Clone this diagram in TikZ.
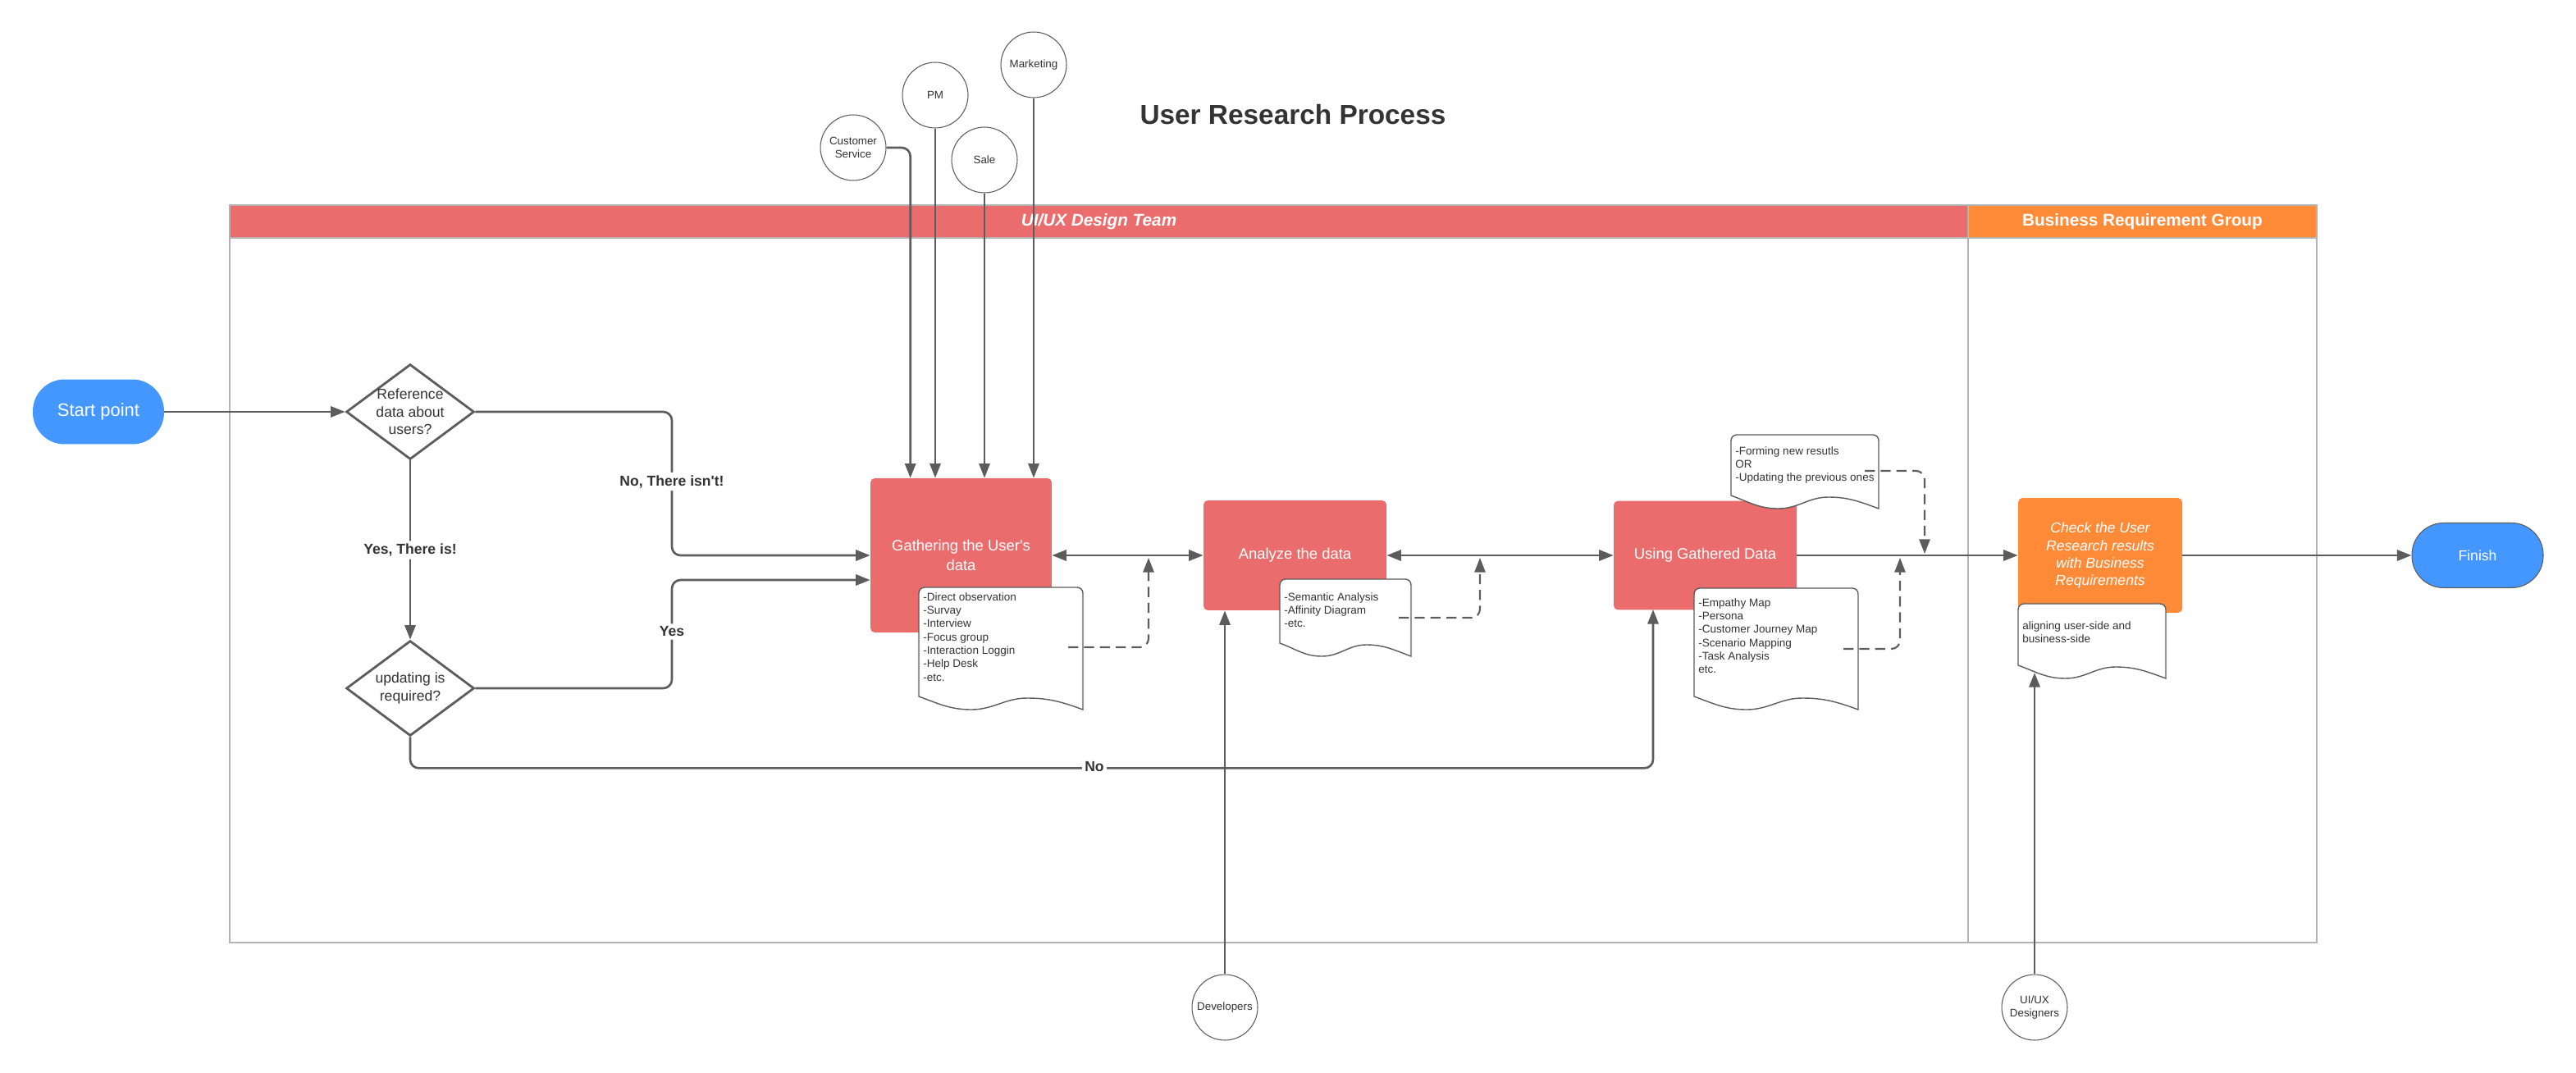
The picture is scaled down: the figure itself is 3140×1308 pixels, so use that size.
\documentclass[tikz,border=0pt]{standalone}
\usepackage{fontspec}
\setmainfont{Liberation Sans}
\usetikzlibrary{arrows.meta,shapes.geometric,calc,positioning}

\definecolor{laneRed}{HTML}{EB6C6C}
\definecolor{laneOrange}{HTML}{FF8A38}
\definecolor{termBlue}{HTML}{4497FF}
\definecolor{lineGray}{HTML}{5C5C5C}
\definecolor{poolGray}{HTML}{B3B3B3}
\definecolor{inkGray}{HTML}{333333}

% document sheet with a wavy foot: name, left, top, width, height, text top, text
\newcommand{\notesheet}[7]{%
  \draw[notepaper] (#2,#3+#5-16) [rounded corners=4pt] -- (#2,#3) -- (#2+#4,#3)
    -- (#2+#4,#3+20) [sharp corners] -- (#2+#4,#3+#5)
    to[out=160,in=0] (#2+0.66*#4,#3+#5-14)
    to[out=180,in=0] (#2+0.32*#4,#3+#5)
    to[out=180,in=-20] (#2,#3+#5-16) -- cycle;
  \node[notetext] (#1) at (#2+5,#6) {#7};
}

\begin{document}
\begin{tikzpicture}[
    x=0.02cm, y=-0.02cm,
    >={Triangle[length=10pt,width=7.5pt]},
    flow/.style={draw=lineGray, line width=1.5pt, rounded corners=6pt, ->},
    flowboth/.style={flow, <->},
    dashflow/.style={flow, line width=1.2pt, dash pattern=on 7pt off 4pt},
    pool/.style={draw=poolGray, line width=1.1pt},
    lanehead/.style={text=white, font=\fontsize{11.8}{14}\selectfont\bfseries},
    task/.style={fill=laneRed, rounded corners=3pt, text=white, align=center,
      inner sep=0pt, font=\fontsize{10.5}{13.3}\selectfont},
    checkbox/.style={task, fill=laneOrange, font=\fontsize{10}{12}\selectfont\itshape},
    terminal/.style={fill=termBlue, rounded corners=22pt, text=white, inner sep=0pt,
      minimum width=3.2cm, minimum height=1.58cm},
    decision/.style={diamond, draw=lineGray, line width=1.6pt, fill=white, inner sep=0pt,
      minimum width=3.12cm, minimum height=2.32cm},
    declbl/.style={align=center, text=inkGray, font=\fontsize{10}{12.3}\selectfont},
    actor/.style={circle, draw=lineGray, line width=0.6pt, fill=white, minimum size=1.6cm,
      inner sep=0pt, align=center, text=inkGray, font=\fontsize{7.6}{9.1}\selectfont},
    edgelbl/.style={fill=white, inner sep=2pt, text=inkGray,
      font=\fontsize{10}{12}\selectfont\bfseries},
    notepaper/.style={draw=lineGray, line width=0.8pt, fill=white},
    notetext/.style={anchor=north west, inner sep=0pt, align=left, text=inkGray,
      font=\fontsize{7.7}{9.3}\selectfont},
  ]
\useasboundingbox (0,0) rectangle (3140,1308);

% title and swimlane pool
\node[text=inkGray, font=\fontsize{19}{23}\selectfont\bfseries] (title) at (1576,140)
  {User Research Process};
\fill[laneRed] (280,250) rectangle (2399,290);
\fill[laneOrange] (2399,250) rectangle (2824,290);
\draw[pool] (280,250) rectangle (2824,1149);
\draw[pool] (280,290) -- (2824,290);
\draw[pool] (2399,250) -- (2399,1149);
\node[lanehead, font=\fontsize{11.8}{14}\selectfont\bfseries\itshape] (uiuxHead)
  at (1339.5,270) {UI/UX Design Team};
\node[lanehead] (bizHead) at (2611.5,270) {Business Requirement Group};

% terminals, decisions and tasks
\node[terminal, font=\fontsize{12.5}{15}\selectfont] (start) at (120,502) {Start point};
\node[terminal, draw=lineGray, line width=0.6pt, font=\fontsize{10}{12}\selectfont]
  (finish) at (3020,677) {Finish};
\node[decision, label={[declbl, name=refTxt]center:{Reference\\data about\\users?}}]
  (ref) at (500,502) {};
\node[decision, label={[declbl, name=updTxt]center:{updating is\\required?}}]
  (upd) at (500,839) {};
\node[task, minimum width=4.42cm, minimum height=3.76cm] (gat) at (1171.5,677)
  {Gathering the User\textquotesingle s\\data};
\node[task, minimum width=4.46cm, minimum height=2.68cm] (ana) at (1578.5,677)
  {Analyze the data};
\node[task, minimum width=4.46cm, minimum height=2.66cm] (use) at (2078.5,677)
  {Using Gathered Data};
\node[checkbox, minimum width=4cm, minimum height=2.8cm] (check) at (2560,677)
  {Check the User\\Research results\\with Business\\Requirements};

% stakeholders
\node[actor] (cs) at (1040,180) {Customer\\Service};
\node[actor] (pm) at (1140,116) {PM};
\node[actor] (sale) at (1200,195) {Sale};
\node[actor] (mkt) at (1260,79) {Marketing};
\node[actor] (dev) at (1493,1228) {Developers};
\node[actor] (uxd) at (2480,1228) {UI/UX\\Designers};

% document notes
\notesheet{gatNote}{1120}{716}{200}{149}{722}{-Direct observation\\-Survay\\-Interview\\
  -Focus group\\-Interaction Loggin\\-Help Desk\\-etc.}
\notesheet{anaNote}{1560}{706}{160}{94}{722}{-Semantic Analysis\\-Affinity Diagram\\-etc.}
\notesheet{useNote}{2065}{717}{200}{148}{729}{-Empathy Map\\-Persona\\
  -Customer Journey Map\\-Scenario Mapping\\-Task Analysis\\etc.}
\notesheet{formNote}{2110}{530}{180}{90}{544}{-Forming new resutls\\OR\\
  -Updating the previous ones}
\notesheet{alignNote}{2460}{736}{180}{91}{757}{aligning user-side and\\business-side}

\coordinate (gatTap) at (1302,789);
\coordinate (gatJoin) at (1400,680);
\coordinate (anaTap) at (1705,753);
\coordinate (anaJoin) at (1804,680);
\coordinate (useTap) at (2247,791);
\coordinate (useJoin) at (2316,680);
\coordinate (formTap) at (2273,574);
\coordinate (formJoin) at (2346,675);
\coordinate (useFoot) at (2015,743);
\coordinate (alignFoot) at (2480,820);

% main flow
\draw[flow] (start) -- (ref);
\draw[flow] (ref) -- node[edgelbl] (yesThere) {Yes, There is!} (upd);
\draw[flow] (ref.east) -| (819,587) node[edgelbl] (noThere) {No, There isn\textquotesingle t!}
  |- (gat.west);
\draw[flow] (upd.east) -| (819,770) node[edgelbl] (yesUpd) {Yes}
  |- ($(gat.west)+(0,30)$);
\draw[flow] (upd.south) -- ++(0,38) -| (useFoot);
\node[edgelbl] (noUpd) at (1334,935) {No};
\draw[flowboth] (gat) -- (ana);
\draw[flowboth] (ana) -- (use);
\draw[flow] (use.east) -- (check.west);
\draw[flow] (check) -- (finish);

% inputs from stakeholders
\draw[flow] (cs.east) -| ($(gat.north west)+(49,0)$);
\draw[flow] (pm) -- (pm |- gat.north);
\draw[flow] (sale) -- (sale |- gat.north);
\draw[flow] (mkt) -- (mkt |- gat.north);
\draw[flow] (dev) -- (dev |- ana.south);
\draw[flow] (uxd) -- (alignFoot);

% results fed back onto the flow
\draw[dashflow] (gatTap) -| (gatJoin);
\draw[dashflow] (anaTap) -| (anaJoin);
\draw[dashflow] (useTap) -| (useJoin);
\draw[dashflow] (formTap) -| (formJoin);

\end{tikzpicture}
\end{document}
